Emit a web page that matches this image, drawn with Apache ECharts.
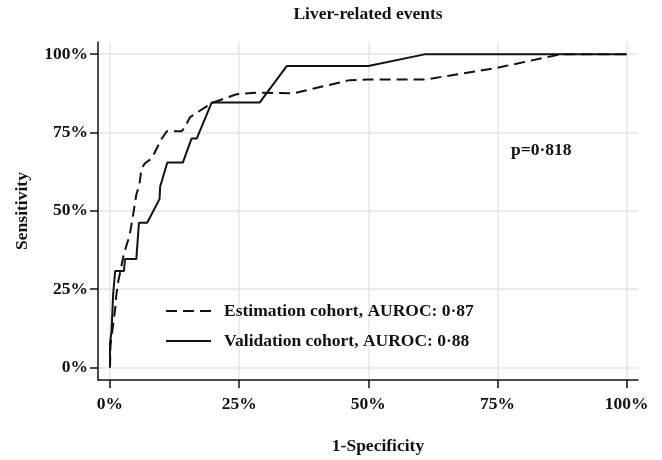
<!DOCTYPE html>
<html>
<head>
<meta charset="utf-8">
<script src="https://cdn.jsdelivr.net/npm/echarts@6/dist/echarts.min.js"></script>
<style>
html,body{margin:0;padding:0;background:#fff;}
#main{width:662px;height:460px;}
</style>
</head>
<body>
<div id="main"></div>
<script>
// ---- data (percent) ----
var estimationFPR = [0, 0.1, 0.5, 1.0, 1.2, 1.6, 2.0, 2.5, 3.1, 3.8, 4.4, 5.1, 5.7, 6.1, 6.8, 8.1, 10.0, 11.0, 13.9, 14.5, 15.5, 19.7, 24.5, 28.4, 35.5, 46.4, 50.0, 61.0, 74.8, 87.4, 100];
var estimationTPR = [0, 7.0, 12.3, 18.6, 22.8, 27.5, 30.6, 34.8, 38.5, 42.1, 47.9, 55.2, 58.4, 63.6, 65.2, 66.8, 73.0, 75.4, 75.4, 76.7, 79.9, 84.4, 87.2, 87.7, 87.5, 91.7, 91.9, 91.9, 95.6, 100, 100];
var validationFPR = [0, 0, 0.3, 0.6, 1.0, 2.7, 2.9, 5.1, 5.6, 7.2, 9.6, 9.7, 11.1, 14.1, 15.8, 16.8, 19.7, 29.0, 34.2, 50.0, 61.1, 100];
var validationTPR = [0, 7.7, 11.5, 23.1, 30.8, 30.8, 34.6, 34.6, 46.2, 46.2, 53.8, 57.7, 65.4, 65.4, 73.1, 73.1, 84.6, 84.6, 96.2, 96.2, 100, 100];
var tickValues = [0, 25, 50, 75, 100];
var tickLabels = ['0%', '25%', '50%', '75%', '100%'];
var seriesNames = ['Estimation cohort, AUROC: 0\u00b787', 'Validation cohort, AUROC: 0\u00b788'];
var titleText = 'Liver-related events';
var pText = 'p=0\u00b7818';
var xName = '1-Specificity';
var yName = 'Sensitivity';

function pairs(xs, ys) { return xs.map(function (x, i) { return [x, ys[i]]; }); }
function fmt(v) { var i = tickValues.indexOf(v); return i >= 0 ? tickLabels[i] : ''; }

var FONT = '"Liberation Serif", "Times New Roman", serif';
var txt = { fontFamily: FONT, fontWeight: 'bold', fontSize: 17.5, color: '#111' };

var chart = echarts.init(document.getElementById('main'), null, { renderer: 'canvas' });
chart.setOption({
  backgroundColor: '#fff',
  animation: false,
  title: {
    text: titleText, left: 368, top: 5, textAlign: 'center', padding: 0,
    textStyle: txt
  },
  legend: {
    orient: 'vertical', left: 165, top: 302, padding: 0,
    itemWidth: 45, itemHeight: 14, itemGap: 12,
    itemStyle: { opacity: 0 },
    textStyle: Object.assign({}, txt, { padding: [0, 0, 0, 8] }),
    data: seriesNames
  },
  graphic: [{
    type: 'text', left: 511, top: 141,
    style: { text: pText, font: 'bold 17.5px ' + FONT, fill: '#111' }
  }],
  grid: { left: 98, right: 24, top: 42, bottom: 75, containLabel: false },
  xAxis: {
    type: 'value', min: -2.32, max: 102.19,
    name: xName, nameLocation: 'middle', nameGap: 57,
    nameTextStyle: Object.assign({}, txt, { padding: [0, 0, 0, 20] }),
    axisLine: { show: true, onZero: false, lineStyle: { color: '#111', width: 1.5 } },
    axisTick: { show: true, length: 8, lineStyle: { color: '#111', width: 1.5 }, customValues: tickValues },
    axisLabel: Object.assign({}, txt, { margin: 15, customValues: tickValues, formatter: fmt }),
    splitLine: { show: true, lineStyle: { color: '#e6e6e6', width: 1.5 } }
  },
  yAxis: {
    type: 'value', min: -3.99, max: 103.87,
    name: yName, nameLocation: 'middle', nameGap: 67, nameRotate: 90,
    nameTextStyle: Object.assign({}, txt, { padding: [0, 0, 0, 0] }),
    axisLine: { show: true, onZero: false, lineStyle: { color: '#111', width: 1.5 } },
    axisTick: { show: true, length: 8, lineStyle: { color: '#111', width: 1.5 }, customValues: tickValues },
    axisLabel: Object.assign({}, txt, { margin: 10, customValues: tickValues, formatter: fmt }),
    splitLine: { show: true, lineStyle: { color: '#e6e6e6', width: 1.5 } }
  },
  series: [{
    name: seriesNames[0], type: 'line', symbol: 'none', showSymbol: false,
    data: pairs(estimationFPR, estimationTPR),
    lineStyle: { color: '#111', width: 2, type: [11, 6] },
    itemStyle: { color: '#111' }
  }, {
    name: seriesNames[1], type: 'line', symbol: 'none', showSymbol: false,
    data: pairs(validationFPR, validationTPR),
    lineStyle: { color: '#111', width: 2, type: 'solid' },
    itemStyle: { color: '#111' }
  }]
});
</script>
</body>
</html>
